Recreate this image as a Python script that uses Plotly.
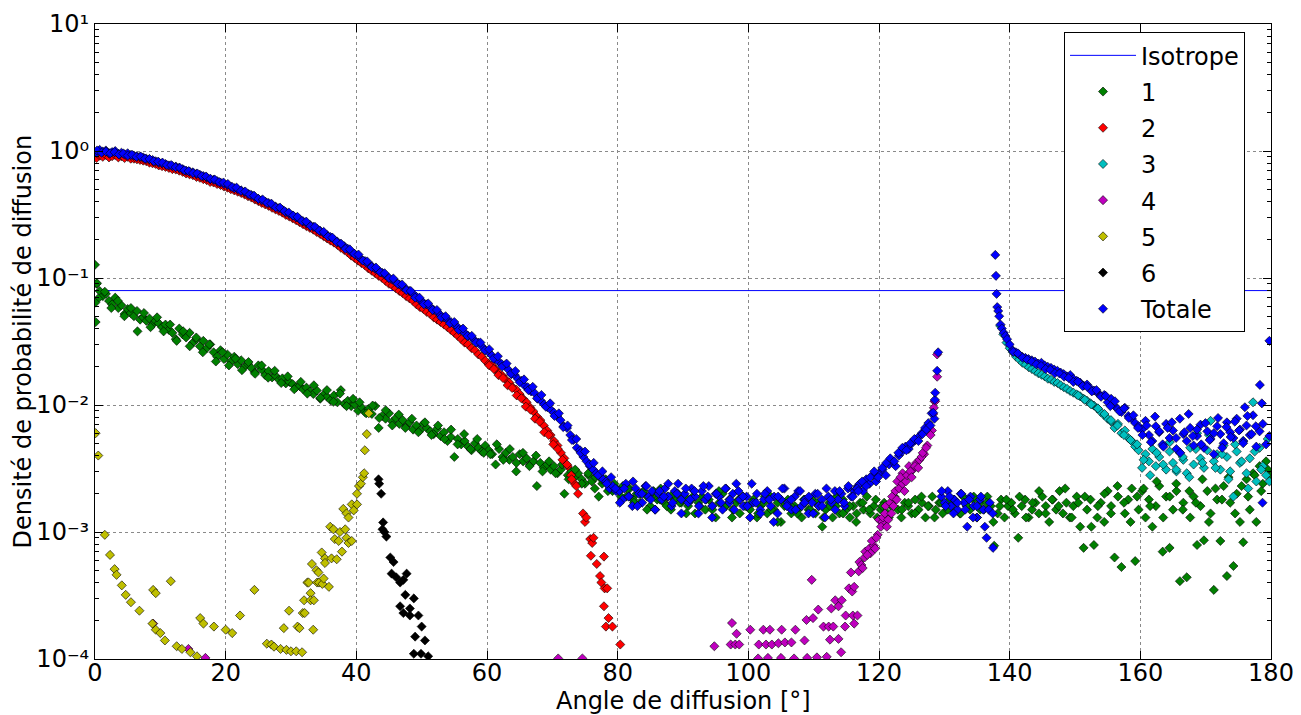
import plotly.graph_objects as go

# ---------------- data ----------------
angle_range = [0, 180]
iso_value = 0.0796

# Totale (blue) : first pass of bins
T_0_10 = [0.97, 1.02, 0.99, 1.01, 0.96, 0.98, 1.0, 0.95, 0.97, 0.94, 0.96, 0.93, 0.92, 0.91, 0.9, 0.89, 0.87, 0.86, 0.85, 0.83, 0.81]
T_10_20 = [0.80, 0.79, 0.77, 0.76, 0.755, 0.74, 0.72, 0.70, 0.69, 0.68, 0.66, 0.65, 0.635, 0.62, 0.60, 0.595, 0.58, 0.565, 0.55]
T_20_30 = [0.54, 0.525, 0.51, 0.50, 0.49, 0.475, 0.46, 0.45, 0.435, 0.42, 0.41, 0.40, 0.39, 0.375, 0.365, 0.355, 0.345, 0.33, 0.32]
T_30_40 = [0.31, 0.30, 0.29, 0.28, 0.27, 0.262, 0.253, 0.245, 0.235, 0.226, 0.218, 0.21, 0.201, 0.193, 0.185, 0.178, 0.17, 0.16, 0.155]
T_40_50 = [0.148, 0.14, 0.136, 0.128, 0.124, 0.118, 0.114, 0.11, 0.105, 0.1, 0.097, 0.093, 0.089, 0.085, 0.082, 0.079, 0.075, 0.071, 0.067]
T_50_60 = [0.064, 0.062, 0.059, 0.056, 0.054, 0.051, 0.049, 0.047, 0.045, 0.043, 0.041, 0.039, 0.037, 0.035, 0.034, 0.032, 0.031, 0.029, 0.027]
T_60_70 = [0.026, 0.0245, 0.023, 0.022, 0.021, 0.0205, 0.019, 0.0175, 0.0172, 0.016, 0.0155, 0.0142, 0.0138, 0.0128, 0.0125, 0.0112, 0.0108, 0.0101, 0.0096, 0.0092]
T_70_80 = [0.0087, 0.0082, 0.0076, 0.0068, 0.0066, 0.0058, 0.0053, 0.0046, 0.0044, 0.0039, 0.0036, 0.0033, 0.0031, 0.0029, 0.0028, 0.0026, 0.0025, 0.0022, 0.0023, 0.0021]
T_80_90 = [0.0021, 0.0018, 0.0024, 0.0019, 0.0016, 0.0022, 0.0020, 0.0017, 0.0023, 0.0019, 0.0021, 0.0015, 0.0020, 0.0018, 0.0022, 0.0019, 0.0016, 0.0021, 0.0024, 0.0018]
T_90_100 = [0.0020, 0.0017, 0.0022, 0.0019, 0.0014, 0.0021, 0.0018, 0.0023, 0.0016, 0.0020, 0.0019, 0.0015, 0.0022, 0.0017, 0.0020, 0.0024, 0.0018, 0.0016, 0.0019]
T_100_110 = [0.0013, 0.0017, 0.0020, 0.0015, 0.0018, 0.0021, 0.0016, 0.0019, 0.0014, 0.0018, 0.0022, 0.0017, 0.0015, 0.0019, 0.0021, 0.0016, 0.0018, 0.0014, 0.0017]
T_110_117 = [0.0020, 0.0016, 0.0018, 0.0013, 0.0019, 0.0017, 0.0021, 0.0018, 0.0020, 0.0016, 0.0022, 0.0019, 0.0021, 0.0023]
T_117_129 = [0.0022, 0.0024, 0.0021, 0.0026, 0.0024, 0.0028, 0.0025, 0.0029, 0.0031, 0.0028, 0.0034, 0.0036, 0.0033,
             0.0040, 0.0043, 0.0047, 0.0045, 0.0050, 0.0053, 0.0056, 0.0060, 0.0066, 0.0072, 0.0086, 0.011, 0.026]
T_129_138 = [0.0019, 0.0017, 0.0021, 0.0016, 0.0018, 0.0015, 0.0020, 0.0017, 0.0011, 0.0019, 0.0016, 0.0013, 0.0018, 0.0015, 0.0009, 0.0017, 0.00075]
T_140_150 = [0.027, 0.026, 0.025, 0.024, 0.0235, 0.023, 0.0225, 0.022, 0.0212, 0.0215, 0.0205, 0.020, 0.0196, 0.019, 0.0186, 0.018, 0.0175, 0.0168, 0.0172, 0.016]
T_150_160 = [0.0155, 0.015, 0.0142, 0.0145, 0.0135, 0.013, 0.0125, 0.0118, 0.012, 0.0105, 0.0112, 0.0098, 0.0093, 0.0088, 0.0095, 0.0082, 0.0078, 0.0072, 0.0068]
T_160_170 = [0.0064, 0.0075, 0.0058, 0.0052, 0.0068, 0.0061, 0.0049, 0.0071, 0.0055, 0.0063, 0.0045, 0.0078, 0.0059, 0.0052, 0.0066, 0.0048, 0.0057, 0.0070, 0.0046]
T_170_180 = [0.0062, 0.0054, 0.0041, 0.0068, 0.0059, 0.0050, 0.0073, 0.0061, 0.0055, 0.0078, 0.0064, 0.0052, 0.0069, 0.0058, 0.0083, 0.0047, 0.0062, 0.0071, 0.0049, 0.0057]
# Totale : second pass of bins (interleaved)
T2_0_20 = [1.01, 0.97, 0.99, 0.96, 0.98, 0.94, 0.955, 0.92, 0.935, 0.9, 0.905, 0.87, 0.865, 0.83, 0.825,
           0.81, 0.775, 0.775, 0.745, 0.735, 0.705, 0.695, 0.67, 0.665, 0.635, 0.63, 0.605, 0.595, 0.57, 0.565]
T2_20_40 = [0.55, 0.52, 0.515, 0.485, 0.48, 0.455, 0.445, 0.42, 0.415, 0.39, 0.385, 0.36, 0.358, 0.336, 0.328,
            0.31, 0.303, 0.281, 0.278, 0.256, 0.253, 0.236, 0.231, 0.212, 0.208, 0.192, 0.186, 0.17, 0.168, 0.155]
T2_40_60 = [0.153, 0.137, 0.135, 0.122, 0.121, 0.111, 0.109, 0.1, 0.099, 0.09, 0.089, 0.08, 0.079, 0.07, 0.07,
            0.062, 0.063, 0.056, 0.056, 0.049, 0.05, 0.044, 0.045, 0.039, 0.04, 0.035, 0.035, 0.031, 0.031, 0.027]
T2_60_80 = [0.0275, 0.0232, 0.0242, 0.0201, 0.0212, 0.0176, 0.0185, 0.0151, 0.0159, 0.0131, 0.0139, 0.0113, 0.012, 0.0097, 0.0103,
            0.0082, 0.0086, 0.0067, 0.0069, 0.0053, 0.0054, 0.0042, 0.0043, 0.0034, 0.0035, 0.0028, 0.003, 0.0024, 0.0027, 0.0022]
T2_80_117 = [0.0017, 0.0022, 0.0019, 0.0025, 0.0016, 0.0020, 0.0023, 0.0018, 0.0015, 0.0021, 0.0019, 0.0024, 0.0017, 0.0020, 0.0014, 0.0022, 0.0018, 0.0021, 0.0016, 0.0023,
             0.0019, 0.0013, 0.0020, 0.0017, 0.0022, 0.0018, 0.0015, 0.0021, 0.0019, 0.0016, 0.0024, 0.0017, 0.0014, 0.0020, 0.0018, 0.0012, 0.0019, 0.0022, 0.0016, 0.0018,
             0.0015, 0.0021, 0.0017, 0.0019, 0.0014, 0.0020, 0.0016, 0.0022, 0.0018, 0.0015, 0.0021, 0.0017, 0.0023, 0.0019, 0.0022]
T2_117_129 = [0.0021, 0.0025, 0.0023, 0.0027, 0.003, 0.0027, 0.0032, 0.0035, 0.0038, 0.0036, 0.0042, 0.0046, 0.0044, 0.005, 0.0054, 0.0052, 0.0059, 0.0064, 0.0069, 0.0078]
T2_129_138 = [0.0021, 0.0016, 0.0019, 0.0014, 0.0017, 0.0020, 0.0015, 0.0018, 0.0013, 0.0016, 0.0019, 0.0011, 0.0015, 0.0014]
T2_140_160 = [0.0262, 0.0255, 0.0236, 0.0228, 0.0219, 0.0209, 0.0203, 0.0192, 0.0189, 0.0178, 0.0177, 0.0167, 0.0163, 0.0152, 0.0153,
              0.0141, 0.0139, 0.0128, 0.0131, 0.0116, 0.0118, 0.0098, 0.0107, 0.0089, 0.0094, 0.0079, 0.0083, 0.0066]
T2_160_178 = [0.0058, 0.0069, 0.0051, 0.0081, 0.0062, 0.0047, 0.0066, 0.0073, 0.0055, 0.0042, 0.0061, 0.0085, 0.0057, 0.0064,
              0.0049, 0.0072, 0.0053, 0.006, 0.0079, 0.0046, 0.0067, 0.0056, 0.0074, 0.0063, 0.005, 0.0082, 0.0059, 0.0068]
T_extra_x = [128.3, 128.6, 128.9, 137.8, 137.9, 138.0, 138.1, 138.25, 138.4, 138.6, 138.8, 139.1, 139.35, 139.6, 140.0, 176.0, 178.3, 178.6, 178.7, 179.75]
T_extra_y = [0.0087, 0.0125, 0.0186, 0.152, 0.104, 0.075, 0.059, 0.055, 0.05, 0.043, 0.04, 0.037, 0.035, 0.033, 0.030, 0.0096, 0.0144, 0.0103, 0.0017, 0.032]

# Serie 1 (green)
G_0_10 = [0.09, 0.079, 0.072, 0.075, 0.066, 0.062, 0.07, 0.058, 0.061, 0.052, 0.057, 0.053, 0.05, 0.055, 0.047, 0.049, 0.046, 0.048, 0.043, 0.046, 0.044]
G_10_20 = [0.041, 0.043, 0.039, 0.037, 0.033, 0.04, 0.036, 0.034, 0.037, 0.031, 0.033, 0.029, 0.032, 0.028, 0.03, 0.026, 0.024, 0.027, 0.023]
G_20_30 = [0.025, 0.022, 0.024, 0.021, 0.0225, 0.02, 0.021, 0.0195, 0.018, 0.0205, 0.019, 0.0172, 0.0185, 0.0165, 0.017, 0.0158, 0.0162, 0.0148, 0.0152]
G_30_40 = [0.0146, 0.0138, 0.0141, 0.0133, 0.0137, 0.0128, 0.0122, 0.013, 0.0112, 0.0121, 0.0116, 0.0109, 0.0119, 0.0105, 0.0131, 0.0102, 0.0108, 0.0098, 0.0101]
G_40_50 = [0.009, 0.0096, 0.0088, 0.0093, 0.0085, 0.0098, 0.0066, 0.0082, 0.0078, 0.0086, 0.0074, 0.0079, 0.0071, 0.0076, 0.0068, 0.0073, 0.0064, 0.0069, 0.0063]
G_50_60 = [0.0071, 0.0066, 0.0062, 0.0059, 0.0065, 0.0057, 0.0061, 0.0052, 0.0056, 0.0039, 0.0054, 0.0049, 0.0052, 0.0047, 0.0044, 0.005, 0.0046, 0.0043, 0.0048]
G_60_70 = [0.0044, 0.0041, 0.0034, 0.0045, 0.0039, 0.0042, 0.0037, 0.0039, 0.003, 0.0041, 0.0036, 0.0038, 0.0034, 0.0036, 0.0023, 0.0035, 0.0032, 0.0034, 0.0031]
G_70_80 = [0.0033, 0.0029, 0.0031, 0.002, 0.0028, 0.003, 0.0027, 0.0029, 0.0026, 0.0024, 0.0028, 0.0025, 0.0027, 0.0019, 0.0024, 0.0026, 0.0023, 0.0021, 0.0022]
G_80_90 = [0.0021, 0.0023, 0.0019, 0.0022, 0.0018, 0.002, 0.0017, 0.0021, 0.0019, 0.0016, 0.002, 0.0018, 0.0022, 0.0017, 0.0019, 0.0015, 0.0018, 0.002, 0.0017]
G_90_100 = [0.0019, 0.0016, 0.0018, 0.0014, 0.0017, 0.0019, 0.0015, 0.0018, 0.0016, 0.0013, 0.0017, 0.002, 0.0016, 0.0018, 0.0015, 0.0017, 0.0014, 0.0019, 0.0016]
G_100_110 = [0.0015, 0.0018, 0.0013, 0.0016, 0.0017, 0.0014, 0.0019, 0.0015, 0.0017, 0.0012, 0.0016, 0.0018, 0.0014, 0.0016, 0.0015, 0.0013, 0.0017, 0.0015, 0.0018]
G_110_120 = [0.0014, 0.0016, 0.0011, 0.0015, 0.0017, 0.0013, 0.0016, 0.0014, 0.0018, 0.0015, 0.0013, 0.0016, 0.0014, 0.0017, 0.0015, 0.0019, 0.0014, 0.0016, 0.0013]
G_120_130 = [0.0015, 0.0017, 0.0014, 0.0016, 0.0019, 0.0015, 0.0013, 0.0017, 0.0016, 0.0014, 0.0018, 0.0015, 0.0017, 0.0013, 0.0016, 0.0019, 0.0015, 0.0017, 0.0014]
G_130_140 = [0.0016, 0.0018, 0.0015, 0.0017, 0.0014, 0.0019, 0.0016, 0.0015, 0.0018, 0.0013, 0.0017, 0.0015, 0.0019, 0.0016, 0.00078, 0.0014, 0.0018, 0.0013, 0.0016]
G_140_150 = [0.0017, 0.0014, 0.0009, 0.0016, 0.0018, 0.0013, 0.0015, 0.0017, 0.0014, 0.0019, 0.0016, 0.0012, 0.0018, 0.0015, 0.0021, 0.0014, 0.0017, 0.0013, 0.0016]
G_150_160 = [0.0019, 0.0011, 0.00075, 0.0015, 0.0018, 0.00079, 0.0013, 0.0017, 0.0012, 0.0021, 0.0016, 0.00063, 0.0019, 0.00053, 0.0014, 0.0018, 0.0022, 0.00059, 0.0015]
G_160_170 = [0.0021, 0.0013, 0.0018, 0.0011, 0.0016, 0.0023, 0.0007, 0.0019, 0.00075, 0.0015, 0.0021, 0.00041, 0.0017, 0.00044, 0.0013, 0.0019, 0.00079, 0.0016, 0.00086]
G_170_180 = [0.0021, 0.0014, 0.00035, 0.0018, 0.00085, 0.0023, 0.00045, 0.0017, 0.00054, 0.0020, 0.0012, 0.00083, 0.0026, 0.0015, 0.0029, 0.0012, 0.0033, 0.0024, 0.0036, 0.0028]
# green : second pass of bins
G2_0_20 = [0.069, 0.078, 0.058, 0.066, 0.05, 0.058, 0.038, 0.053, 0.041, 0.049, 0.038, 0.043, 0.032, 0.038, 0.029, 0.034, 0.026, 0.03, 0.022, 0.026]
G2_20_40 = [0.0205, 0.0232, 0.0188, 0.0218, 0.0176, 0.0205, 0.0164, 0.0186, 0.0149, 0.0168, 0.0133, 0.0152, 0.0123, 0.0143, 0.0114, 0.0131, 0.0106, 0.0123, 0.0098, 0.0112]
G2_40_60 = [0.0105, 0.0086, 0.0099, 0.0079, 0.0091, 0.0069, 0.0084, 0.0066, 0.0078, 0.0061, 0.0073, 0.0058, 0.0069, 0.0054, 0.0064, 0.0049, 0.0059, 0.0045, 0.0054, 0.0042]
G2_60_80 = [0.0041, 0.0049, 0.0037, 0.0045, 0.0035, 0.0042, 0.0033, 0.004, 0.003, 0.0036, 0.0029, 0.0034, 0.0026, 0.0031, 0.0024, 0.0029, 0.0022, 0.0026, 0.0021, 0.0024]
G2_80_180 = [0.0019, 0.0022, 0.0017, 0.002, 0.0015, 0.0021, 0.0018, 0.0016, 0.002, 0.0017, 0.0014, 0.0019, 0.0016, 0.0018, 0.0015, 0.0021, 0.0016, 0.0013, 0.0018, 0.0016,
             0.0017, 0.0014, 0.0019, 0.0015, 0.0012, 0.0017, 0.0016, 0.0014, 0.0018, 0.0015, 0.0017, 0.0013, 0.0016, 0.0019, 0.0014, 0.0016, 0.0012, 0.0017, 0.0015, 0.0018,
             0.0016, 0.0013, 0.0018, 0.0015, 0.0017, 0.0014, 0.0019, 0.0016, 0.0013, 0.0017, 0.0015, 0.0018, 0.0014, 0.0016, 0.0019, 0.0015, 0.0017, 0.0012, 0.0016, 0.0018,
             0.0015, 0.0019, 0.0013, 0.0017, 0.0021, 0.0014, 0.0018, 0.0016, 0.0022, 0.0013, 0.0017, 0.0019, 0.0011, 0.0016, 0.0020, 0.0014, 0.0023, 0.0017, 0.0012, 0.0019,
             0.0022, 0.0016, 0.0025, 0.0013, 0.0019, 0.0024, 0.0015, 0.0021, 0.0017, 0.0026, 0.0012, 0.0022, 0.0018, 0.0027, 0.0014, 0.0023, 0.0019, 0.0028, 0.0021, 0.0031]
G_extra_x = [0.0, 0.05, 0.1, 0.3]
G_extra_y = [0.127, 0.064, 0.045, 0.091]

# Serie 2 (red)
R_0_10 = [0.88, 0.92, 0.9, 0.93, 0.89, 0.91, 0.93, 0.89, 0.91, 0.88, 0.9, 0.87, 0.87, 0.86, 0.85, 0.84, 0.83, 0.81, 0.8, 0.79, 0.77]
R_10_20 = [0.76, 0.75, 0.735, 0.72, 0.715, 0.70, 0.685, 0.665, 0.655, 0.645, 0.625, 0.615, 0.60, 0.59, 0.57, 0.565, 0.55, 0.54, 0.525]
R_20_30 = [0.515, 0.50, 0.49, 0.478, 0.467, 0.455, 0.44, 0.43, 0.415, 0.403, 0.39, 0.38, 0.37, 0.357, 0.347, 0.337, 0.327, 0.314, 0.305]
R_30_40 = [0.295, 0.285, 0.275, 0.265, 0.256, 0.248, 0.24, 0.23, 0.222, 0.213, 0.205, 0.197, 0.19, 0.182, 0.173, 0.166, 0.159, 0.15, 0.144]
R_40_50 = [0.137, 0.131, 0.126, 0.119, 0.114, 0.109, 0.104, 0.1, 0.095, 0.09, 0.087, 0.083, 0.079, 0.076, 0.072, 0.069, 0.066, 0.062, 0.059]
R_50_60 = [0.057, 0.054, 0.052, 0.049, 0.047, 0.045, 0.043, 0.041, 0.039, 0.037, 0.035, 0.033, 0.031, 0.03, 0.028, 0.027, 0.025, 0.024, 0.0223]
R_60_70 = [0.021, 0.0205, 0.019, 0.0178, 0.017, 0.0158, 0.015, 0.0138, 0.0132, 0.0122, 0.0112, 0.0105, 0.0096, 0.0089, 0.0081, 0.0076, 0.0069, 0.0063, 0.0058]
R_70_74 = [0.0052, 0.0048, 0.0042, 0.0038, 0.0033, 0.0028, 0.0024, 0.002]
R2_60_74 = [0.0205, 0.0192, 0.0172, 0.0163, 0.0143, 0.0136, 0.0119, 0.0113, 0.0097, 0.0092, 0.0078, 0.0074, 0.0061, 0.0058, 0.0049, 0.0045, 0.0037, 0.0034, 0.0026, 0.0023]
R_extra_x = [74.7, 75.0, 75.2, 75.8, 76.1, 76.3, 75.9, 76.8, 77.9, 77.3, 77.5, 78.0, 78.4, 77.9, 78.6, 78.2, 79.2, 80.4]
R_extra_y = [0.0014, 0.0012, 0.0013, 0.00088, 0.00082, 0.0009, 0.00065, 0.00056, 0.00064, 0.00045, 0.0004, 0.00036, 0.00036, 0.00026, 0.00021, 0.00018, 0.00018, 0.00013]

# Serie 3 (cyan)
C_138_150 = [0.042, 0.036, 0.031, 0.028, 0.026, 0.024, 0.0228, 0.0215, 0.0208, 0.0198, 0.0192, 0.0185, 0.0178, 0.0173, 0.0168, 0.0161, 0.0158, 0.0152, 0.0149, 0.0143, 0.0138, 0.0134, 0.0129, 0.0125]
C_150_160 = [0.0121, 0.0117, 0.0112, 0.0108, 0.0103, 0.0099, 0.0094, 0.0088, 0.0083, 0.0078, 0.0074, 0.0066, 0.0071, 0.006, 0.0063, 0.0055, 0.0052, 0.0047, 0.0044]
C_160_170 = [0.0032, 0.0041, 0.0036, 0.0045, 0.0033, 0.0039, 0.0048, 0.0031, 0.0043, 0.0035, 0.003, 0.0042, 0.0037, 0.0029, 0.0046, 0.0034, 0.006, 0.0038, 0.0032]
C_170_180 = [0.0044, 0.0075, 0.0036, 0.0041, 0.0031, 0.0048, 0.0039, 0.003, 0.0019, 0.0043, 0.0035, 0.0052, 0.0029, 0.0038, 0.0105, 0.0025, 0.0046, 0.0033, 0.0028, 0.0025]
C2_150_160 = [0.0119, 0.011, 0.0101, 0.0094, 0.0085, 0.0076, 0.0069, 0.0058, 0.0053, 0.0049]
C2_160_180 = [0.0037, 0.0028, 0.0042, 0.0034, 0.0051, 0.0031, 0.0039, 0.0027, 0.0045, 0.0035, 0.0058, 0.0032, 0.0041, 0.0026, 0.0049, 0.0036, 0.0022, 0.0043, 0.0031, 0.0054]

# Serie 4 (magenta)
M_x = [8.9, 14.3, 16.9, 70.9, 74.6, 94.8, 97.3, 97.5, 98.0, 98.2, 98.6, 100.3, 101.5, 101.6, 102.3, 102.7, 103.0, 103.3, 103.6, 104.6,
       105.0, 105.1, 105.6, 106.6, 107.0, 107.2, 108.6, 108.9, 109.0, 109.7, 109.9, 110.5, 110.7, 111.5, 112.0, 112.3, 112.5, 112.7, 113.0, 113.3,
       113.8, 113.8, 114.2, 114.3, 114.8, 114.9, 115.4, 115.7, 115.9, 116.0, 116.2, 116.2, 116.7, 116.9, 117.0, 117.3, 117.8, 117.9, 118.5, 118.7,
       119.2, 119.4, 119.8, 120.0, 120.5, 120.6, 121.0, 121.4, 121.7, 122.2, 122.5, 122.8, 123.1, 123.6, 123.6, 124.1, 124.6, 125.2, 125.7, 126.2,
       126.9, 127.4, 127.7, 128.1, 128.3, 128.5, 128.6, 128.9, 128.9]
M_y = [0.00019, 0.00012, 0.000102, 0.000101, 0.000101, 0.000126, 0.00013, 0.000192, 0.00013, 0.000158, 0.00013, 0.00017, 0.000101, 0.00013, 0.00017, 0.00013, 0.000102, 0.00017, 0.00013, 0.000133,
       0.000102, 0.00017, 0.000135, 0.000135, 0.000101, 0.00017, 0.00014, 0.000203, 0.000102, 0.00042, 0.00021, 0.000103, 0.000245, 0.00018, 0.000104, 0.00018, 0.000142, 0.00025, 0.00018, 0.00029,
       0.00026, 0.000144, 0.000113, 0.00029, 0.00018, 0.00022, 0.00036, 0.00048, 0.00034, 0.00022, 0.00019, 0.00037, 0.00022, 0.00049, 0.00058, 0.00055, 0.00063, 0.0007, 0.00074, 0.00068,
       0.00078, 0.00074, 0.00095, 0.00125, 0.0012, 0.0013, 0.0016, 0.00125, 0.0017, 0.0016, 0.0021, 0.0025, 0.0022, 0.0024, 0.0029, 0.0025, 0.0033, 0.0031, 0.0035, 0.0037,
       0.0041, 0.0048, 0.0063, 0.0063, 0.0085, 0.0107, 0.0107, 0.0167, 0.025]
M2_x = [117.5, 118.2, 118.9, 119.6, 120.3, 120.9, 121.2, 121.9, 122.0, 122.7, 123.3, 123.9, 124.3, 124.8, 125.0, 125.5, 126.0, 126.5, 126.7, 127.2, 127.9, 128.4]
M2_y = [0.00052, 0.00066, 0.00085, 0.0009, 0.0011, 0.0014, 0.0011, 0.0014, 0.0019, 0.0018, 0.0027, 0.0021, 0.0028, 0.0030, 0.0027, 0.0033, 0.0032, 0.0039, 0.0042, 0.0046, 0.0058, 0.0095]

# Serie 5 (yellow)
Y_x = [0.1, 0.5, 1.5, 2.3, 3.0, 3.3, 4.1, 4.7, 5.5, 6.8, 8.8, 8.9, 9.3, 9.3, 10.0, 10.7, 11.6, 12.5, 13.3, 14.6,
       15.6, 16.1, 16.6, 18.2, 20.0, 21.0, 22.2, 24.4, 26.3, 27.0, 27.4, 28.4, 28.9, 29.3, 29.7, 30.0, 30.8, 31.0, 31.3, 31.7,
       31.8, 32.0, 32.1, 32.5, 32.7, 33.0, 33.0, 33.2, 33.4, 33.5, 33.9, 34.0, 34.2, 34.3, 34.7, 34.8, 35.0, 35.2, 35.2, 35.8,
       36.0, 36.2, 36.5, 36.7, 37.0, 37.3, 37.5, 37.8, 38.0, 38.3, 38.5, 38.5, 38.8, 38.8, 39.3, 39.3, 39.6, 40.1, 40.1, 40.4,
       40.7, 41.0, 41.2, 41.3, 41.6, 41.9]
Y_y = [0.0060, 0.0040, 0.00095, 0.00066, 0.00051, 0.00046, 0.00038, 0.00032, 0.00028, 0.00024, 0.00019, 0.00035, 0.00017, 0.00033, 0.00016, 0.00014, 0.00041, 0.000126, 0.00012, 0.000113,
       0.000105, 0.00021, 0.00019, 0.00018, 0.00017, 0.00016, 0.00022, 0.00035, 0.000132, 0.00013, 0.000125, 0.00012, 0.000175, 0.000118, 0.00024, 0.000115, 0.000115, 0.00018, 0.000175, 0.000113,
       0.00023, 0.00029, 0.00023, 0.0004, 0.0004, 0.00033, 0.00029, 0.00056, 0.00017, 0.00029, 0.0005, 0.0004, 0.00048, 0.0004, 0.00069, 0.00039, 0.00043, 0.00062, 0.00057, 0.00037,
       0.0011, 0.00062, 0.00105, 0.00088, 0.00061, 0.00085, 0.001, 0.0007, 0.00152, 0.00105, 0.0009, 0.0014, 0.00082, 0.0013, 0.00165, 0.00085, 0.00148, 0.002, 0.00165, 0.0023,
       0.0024, 0.0027, 0.0029, 0.0044, 0.0059, 0.0086]

# Serie 6 (black)
K_x = [43.4, 43.5, 43.8, 44.0, 44.1, 44.3, 44.6, 45.2, 45.4, 45.7, 46.1, 46.7, 46.7, 47.2, 47.2, 47.5, 47.7, 48.2, 48.2, 48.8, 48.8, 49.0, 49.5, 49.9, 50.0, 50.5, 51.0]
K_y = [0.0026, 0.0024, 0.002, 0.00105, 0.00119, 0.001, 0.00092, 0.00063, 0.00047, 0.00058, 0.00044, 0.0004, 0.00026, 0.00042, 0.00023, 0.00032, 0.00047, 0.00025, 0.00022, 0.0003, 0.00011, 0.00015, 0.00022, 0.00011, 0.00018, 0.00014, 0.000105]

x_ticks = [0, 20, 40, 60, 80, 100, 120, 140, 160, 180]
y_ticks = [1e-4, 1e-3, 1e-2, 1e-1, 1e0, 1e1]
y_ticktext = ["10⁻⁴", "10⁻³", "10⁻²", "10⁻¹", "10⁰", "10¹"]
x_title = "Angle de diffusion [°]"
y_title = "Densité de probabilité de diffusion"


# ---------------- helpers ----------------
def seg(a, b, vals):
    n = len(vals)
    return [a + (b - a) * (i + 0.5) / n for i in range(n)], list(vals)


def build(segments, extra_x=(), extra_y=()):
    xs, ys = [], []
    for a, b, vals in segments:
        sx, sy = seg(a, b, vals)
        xs += sx
        ys += sy
    xs += list(extra_x)
    ys += list(extra_y)
    return xs, ys


tot_x, tot_y = build([(0, 10, T_0_10), (10, 20, T_10_20), (20, 30, T_20_30), (30, 40, T_30_40), (40, 50, T_40_50),
                      (50, 60, T_50_60), (60, 70, T_60_70), (70, 80, T_70_80), (80, 90, T_80_90), (90, 100, T_90_100),
                      (100, 110, T_100_110), (110, 117, T_110_117), (116.3, 129.3, T_117_129), (129.3, 137.7, T_129_138),
                      (140.2, 150, T_140_150), (150, 160, T_150_160), (160, 170, T_160_170), (170, 180, T_170_180),
                      (0, 20, T2_0_20), (20, 40, T2_20_40), (40, 60, T2_40_60), (60, 80, T2_60_80), (80, 117, T2_80_117),
                      (116.5, 128.8, T2_117_129), (129.3, 137.7, T2_129_138), (140.2, 160, T2_140_160), (160, 178, T2_160_178)],
                     T_extra_x, T_extra_y)
g_x, g_y = build([(0, 10, G_0_10), (10, 20, G_10_20), (20, 30, G_20_30), (30, 40, G_30_40), (40, 50, G_40_50),
                  (50, 60, G_50_60), (60, 70, G_60_70), (70, 80, G_70_80), (80, 90, G_80_90), (90, 100, G_90_100),
                  (100, 110, G_100_110), (110, 120, G_110_120), (120, 130, G_120_130), (130, 140, G_130_140),
                  (140, 150, G_140_150), (150, 160, G_150_160), (160, 170, G_160_170), (170, 180, G_170_180),
                  (0, 20, G2_0_20), (20, 40, G2_20_40), (40, 60, G2_40_60), (60, 80, G2_60_80), (80, 180, G2_80_180)],
                 G_extra_x, G_extra_y)
r_x, r_y = build([(0, 10, R_0_10), (10, 20, R_10_20), (20, 30, R_20_30), (30, 40, R_30_40), (40, 50, R_40_50),
                  (50, 60, R_50_60), (60, 70, R_60_70), (70, 74.2, R_70_74), (60, 74, R2_60_74)], R_extra_x, R_extra_y)
c_x, c_y = build([(138.3, 150, C_138_150), (150, 160, C_150_160), (160, 170, C_160_170), (170, 180, C_170_180),
                  (150, 160, C2_150_160), (160, 180, C2_160_180)])
m_x = M_x + M2_x
m_y = M_y + M2_y

FONT = "DejaVu Sans, Verdana, sans-serif"
FS = 24


def scat(x, y, name, color, grp):
    return go.Scatter(x=x, y=y, mode="markers", name=name, legendgroup=grp,
                      marker=dict(symbol="diamond", size=7, color=color,
                                  line=dict(color="black", width=0.6)))


fig = go.Figure()
fig.add_trace(go.Scatter(x=angle_range, y=[iso_value, iso_value], mode="lines", name="Isotrope",
                         legendgroup="g0", line=dict(color="#0000ff", width=1)))
fig.add_trace(scat(g_x, g_y, "1", "#008000", "g1"))
fig.add_trace(scat(r_x, r_y, "2", "#ff0000", "g2"))
fig.add_trace(scat(c_x, c_y, "3", "#00bfbf", "g3"))
fig.add_trace(scat(m_x, m_y, "4", "#bf00bf", "g4"))
fig.add_trace(scat(Y_x, Y_y, "5", "#bfbf00", "g5"))
fig.add_trace(scat(K_x, K_y, "6", "#000000", "g6"))
fig.add_trace(scat(tot_x, tot_y, "Totale", "#0000ff", "g7"))

minor_vals = [k * 10.0 ** e for e in range(-4, 1) for k in range(2, 10)]

fig.update_layout(
    width=1301, height=715,
    margin=dict(l=95, r=30, t=24, b=56),
    paper_bgcolor="white", plot_bgcolor="white",
    font=dict(family=FONT, size=FS, color="black"),
    showlegend=True,
    legend=dict(x=0.824, y=0.987, xanchor="left", yanchor="top",
                bgcolor="white", bordercolor="black", borderwidth=1,
                font=dict(family=FONT, size=FS), tracegroupgap=2, itemwidth=66),
    xaxis=dict(range=[0, 180], tickmode="array", tickvals=x_ticks, automargin=False,
               ticks="inside", ticklen=8, tickcolor="black", mirror="allticks",
               showline=True, linecolor="black", linewidth=1, ticklabelstandoff=-8,
               showgrid=True, gridcolor="#8a8a8a", griddash="dot", gridwidth=1,
               zeroline=False, tickfont=dict(size=FS)),
    yaxis=dict(type="log", range=[-4, 1], tickmode="array", tickvals=y_ticks, ticktext=y_ticktext, automargin=False,
               ticks="inside", ticklen=8, tickcolor="black", mirror="allticks",
               showline=True, linecolor="black", linewidth=1,
               showgrid=True, gridcolor="#8a8a8a", griddash="dot", gridwidth=1,
               zeroline=False, tickfont=dict(size=FS),
               minor=dict(tickvals=minor_vals, ticks="inside", ticklen=4, tickcolor="black", showgrid=False)),
    annotations=[
        dict(text=x_title, xref="paper", yref="paper", x=0.5, y=0, yshift=-42,
             xanchor="center", yanchor="middle", showarrow=False, font=dict(size=FS)),
        dict(text=y_title, xref="paper", yref="paper", x=0, y=0.5, xshift=-73,
             xanchor="center", yanchor="middle", textangle=-90, showarrow=False, font=dict(size=FS)),
    ],
)

fig.write_html("out.html", config={"displayModeBar": False},
               post_script="document.body.style.margin='0px';")
